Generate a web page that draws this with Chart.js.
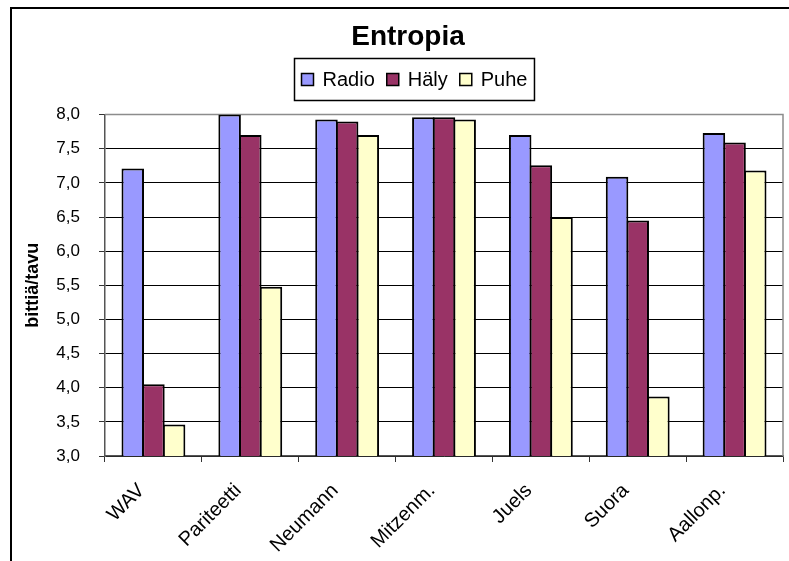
<!DOCTYPE html>
<html>
<head>
<meta charset="utf-8">
<script src="https://cdn.jsdelivr.net/npm/chart.js@4.4.1/dist/chart.umd.min.js"></script>
<style>
    html, body { margin: 0; padding: 0; background: #fff; overflow: hidden; width: 789px; height: 561px; }
    #frame { position: absolute; left: 10px; top: 7px; width: 900px; height: 700px;
             border-left: 2px solid #000; border-top: 2px solid #000; }
    #stats { position: absolute; left: 0; top: 0; }
</style>
</head>
<body>
<div id="frame"><canvas id="stats" width="792" height="552"></canvas></div>
<script>
const categories = ['WAV', 'Pariteetti', 'Neumann', 'Mitzenm.', 'Juels', 'Suora', 'Aallonp.'];
const radio = [7.21, 8.00, 7.93, 7.96, 7.70, 7.09, 7.73];
const haly = [4.05, 7.70, 7.90, 7.96, 7.26, 6.45, 7.59];
const puhe = [3.46, 5.48, 7.70, 7.93, 6.50, 3.87, 7.18];
const yTicks = [3.0, 3.5, 4.0, 4.5, 5.0, 5.5, 6.0, 6.5, 7.0, 7.5, 8.0];

const FONT = '"Liberation Sans", Arial, sans-serif';

// legend in a box, like excel does it
const legendBox = {
    id: 'legendBox',
    afterDraw(chart) {
        const ctx = chart.ctx;
        const sets = chart.data.datasets;
        const box = 12, gapIn = 9, gapOut = 12, pad = 7;
        ctx.save();
        ctx.font = '20px ' + FONT;
        let w = pad * 2;
        sets.forEach((d, i) => { w += box + gapIn + ctx.measureText(d.label).width + (i ? gapOut : 0); });
        const x0 = Math.round(402 - w / 2) + 0.5, y0 = 49.5, h = 42;
        ctx.lineWidth = 1.5;
        ctx.strokeStyle = '#000';
        ctx.strokeRect(x0, y0, w, h);
        let x = x0 + pad;
        const cy = y0 + h / 2;
        ctx.textBaseline = 'middle';
        sets.forEach((d, i) => {
            if (i) x += gapOut;
            ctx.fillStyle = d.backgroundColor;
            ctx.fillRect(x, cy - box / 2, box, box);
            ctx.strokeRect(x, cy - box / 2, box, box);
            x += box + gapIn;
            ctx.fillStyle = '#000';
            ctx.fillText(d.label, x, cy + 1);
            x += ctx.measureText(d.label).width;
        });
        ctx.restore();
    }
};

// gray plot border on top and right
const plotBorder = {
    id: 'plotBorder',
    beforeDatasetsDraw(chart) {
        const a = chart.chartArea;
        const ctx = chart.ctx;
        ctx.save();
        ctx.strokeStyle = '#8c8c8c';
        ctx.lineWidth = 1.5;
        ctx.beginPath();
        ctx.moveTo(a.left, a.top);
        ctx.lineTo(a.right, a.top);
        ctx.lineTo(a.right, a.bottom);
        ctx.stroke();
        ctx.restore();
    }
};

window.addEventListener('load', function() {
    Chart.defaults.font.family = FONT;
    Chart.defaults.color = '#000';
    const mk = (label, data, color) => ({
        label: label,
        data: data,
        backgroundColor: color,
        borderColor: '#000',
        borderWidth: 2,
        borderSkipped: false,
        categoryPercentage: 0.64,
        barPercentage: 1.09
    });
    const chart = new Chart(document.getElementById('stats'), {
        type: 'bar',
        data: {
            labels: categories,
            datasets: [
                mk('Radio', radio, '#9999FF'),
                mk('Häly', haly, '#993366'),
                mk('Puhe', puhe, '#FFFFCC')
            ]
        },
        options: {
            responsive: false,
            animation: false,
            layout: { padding: { left: 21, right: 21, bottom: 0, top: 0 } },
            plugins: {
                legend: { display: false },
                tooltip: { enabled: false },
                title: {
                    display: true,
                    text: 'Entropia',
                    font: { size: 28, weight: 'bold' },
                    color: '#000',
                    padding: { top: 11, bottom: 61 }
                }
            },
            scales: {
                x: {
                    afterFit: function(scale) { scale.height = 105; },
                    grid: { drawOnChartArea: false, drawTicks: true, tickLength: 6, color: '#333' },
                    border: { color: '#555', width: 1.5 },
                    ticks: { font: { size: 20 }, minRotation: 45, maxRotation: 45, padding: 17, labelOffset: -12 }
                },
                y: {
                    min: 3,
                    max: 8,
                    afterFit: function(scale) { scale.width = 72; },
                    afterBuildTicks: function(scale) { scale.ticks = yTicks.map(v => ({ value: v })); },
                    grid: { color: '#000', lineWidth: 1, tickLength: 6, tickColor: '#333' },
                    border: { color: '#555', width: 1.5 },
                    ticks: {
                        font: { size: 17 },
                        padding: 19,
                        callback: v => v.toFixed(1).replace('.', ',')
                    },
                    title: {
                        display: true,
                        text: 'bittiä/tavu',
                        font: { size: 18, weight: 'bold' },
                        padding: { top: -11, bottom: 4 }
                    }
                }
            }
        },
        plugins: [plotBorder, legendBox]
    });
});
</script>
</body>
</html>
